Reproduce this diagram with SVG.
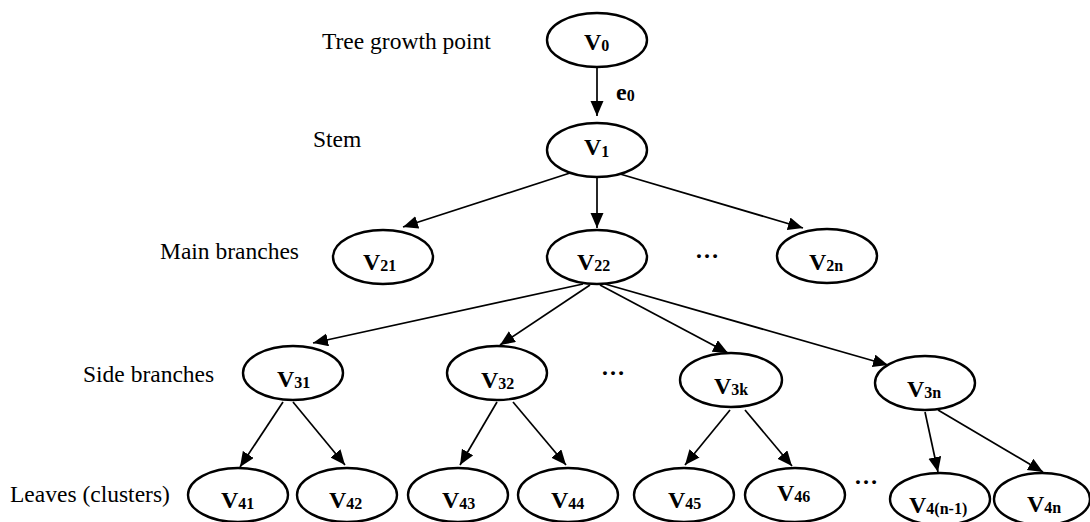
<svg xmlns="http://www.w3.org/2000/svg" width="1090" height="522" viewBox="0 0 1090 522">
<style>
.nd{fill:#fff;stroke:#000;stroke-width:2.4}
.ed{stroke:#000;stroke-width:1.7;fill:none;marker-end:url(#ah)}
.lb{font-family:"Liberation Serif","Times New Roman",serif;font-size:23.5px;fill:#000}
.v{font-family:"Liberation Serif","Times New Roman",serif;font-size:24px;font-weight:bold;fill:#000}
.s{font-size:16px}
</style>
<defs>
<marker id="ah" markerUnits="userSpaceOnUse" markerWidth="16" markerHeight="14" refX="15" refY="6.5" orient="auto">
<path d="M0,0 L15,6.5 L0,13 z" fill="#000"/>
</marker>
</defs>
<rect width="1090" height="522" fill="#fff"/>
<g id="levels">
<text class="lb" x="322" y="49">Tree growth point</text>
<text class="lb" x="313" y="147">Stem</text>
<text class="lb" x="160" y="259">Main branches</text>
<text class="lb" x="83" y="382">Side branches</text>
<text class="lb" x="10" y="502">Leaves (clusters)</text>
</g>
<g id="connectors">
<line class="ed" x1="597" y1="67" x2="597" y2="116"/>
<line class="ed" x1="570" y1="173" x2="403" y2="227"/>
<line class="ed" x1="597" y1="177" x2="597" y2="228"/>
<line class="ed" x1="620" y1="174" x2="803" y2="228"/>
<line class="ed" x1="583" y1="284" x2="313" y2="343"/>
<line class="ed" x1="590" y1="285" x2="500" y2="345"/>
<line class="ed" x1="600" y1="285" x2="728" y2="353"/>
<line class="ed" x1="605" y1="284" x2="888" y2="365"/>
<line class="ed" x1="283" y1="402" x2="240" y2="467"/>
<line class="ed" x1="293" y1="402" x2="345" y2="465"/>
<line class="ed" x1="497" y1="402" x2="460" y2="465"/>
<line class="ed" x1="513" y1="402" x2="566" y2="465"/>
<line class="ed" x1="730" y1="410" x2="685" y2="465"/>
<line class="ed" x1="745" y1="410" x2="792" y2="466"/>
<line class="ed" x1="925" y1="412" x2="938" y2="472"/>
<line class="ed" x1="938" y1="410" x2="1043" y2="472"/>
<text class="v" x="616" y="100">e<tspan class="s" dy="1">0</tspan></text>
</g>
<g id="V0"><ellipse class="nd" cx="597" cy="40" rx="50" ry="27"/><text class="v" x="584" y="50">V<tspan class="s" dy="1">0</tspan></text></g>
<g id="V1"><ellipse class="nd" cx="597" cy="150" rx="50" ry="27"/><text class="v" x="584" y="155">V<tspan class="s" dy="2">1</tspan></text></g>
<g id="V21"><ellipse class="nd" cx="383" cy="257" rx="50" ry="27"/><text class="v" x="363" y="270">V<tspan class="s" dy="1">21</tspan></text></g>
<g id="V22"><ellipse class="nd" cx="597" cy="257" rx="50" ry="27"/><text class="v" x="577" y="270">V<tspan class="s" dy="1">22</tspan></text></g>
<text class="v" x="695" y="258" font-size="18">…</text>
<g id="V2n"><ellipse class="nd" cx="827" cy="256" rx="50" ry="27"/><text class="v" x="809" y="270">V<tspan class="s" dy="1">2n</tspan></text></g>
<g id="V31"><ellipse class="nd" cx="293" cy="373" rx="50" ry="27"/><text class="v" x="277" y="387">V<tspan class="s" dy="1">31</tspan></text></g>
<g id="V32"><ellipse class="nd" cx="497" cy="373" rx="50" ry="27"/><text class="v" x="481" y="388">V<tspan class="s" dy="1">32</tspan></text></g>
<text class="v" x="601" y="375" font-size="18">…</text>
<g id="V3k"><ellipse class="nd" cx="731" cy="380" rx="51" ry="27"/><text class="v" x="714" y="394">V<tspan class="s" dy="1">3k</tspan></text></g>
<g id="V3n"><ellipse class="nd" cx="925" cy="383" rx="50" ry="27"/><text class="v" x="907" y="397">V<tspan class="s" dy="1">3n</tspan></text></g>
<g id="V41"><ellipse class="nd" cx="238" cy="495" rx="50" ry="27"/><text class="v" x="221" y="508">V<tspan class="s" dy="1">41</tspan></text></g>
<g id="V42"><ellipse class="nd" cx="347" cy="495" rx="50" ry="27"/><text class="v" x="329" y="508">V<tspan class="s" dy="1">42</tspan></text></g>
<g id="V43"><ellipse class="nd" cx="458" cy="495" rx="50" ry="27"/><text class="v" x="442" y="508">V<tspan class="s" dy="1">43</tspan></text></g>
<g id="V44"><ellipse class="nd" cx="568" cy="495" rx="50" ry="27"/><text class="v" x="551" y="508">V<tspan class="s" dy="1">44</tspan></text></g>
<g id="V45"><ellipse class="nd" cx="684" cy="495" rx="50" ry="27"/><text class="v" x="668" y="508">V<tspan class="s" dy="1">45</tspan></text></g>
<g id="V46"><ellipse class="nd" cx="795" cy="495" rx="50" ry="27"/><text class="v" x="777" y="501">V<tspan class="s" dy="1">46</tspan></text></g>
<text class="v" x="854" y="484" font-size="18">…</text>
<g id="V4n-1"><ellipse class="nd" cx="940" cy="499" rx="50" ry="26"/><text class="v" x="909" y="513">V<tspan class="s" dy="1">4(n-1)</tspan></text></g>
<g id="V4n"><ellipse class="nd" cx="1042" cy="499" rx="48" ry="26"/><text class="v" x="1027" y="512">V<tspan class="s" dy="1">4n</tspan></text></g>
</svg>
